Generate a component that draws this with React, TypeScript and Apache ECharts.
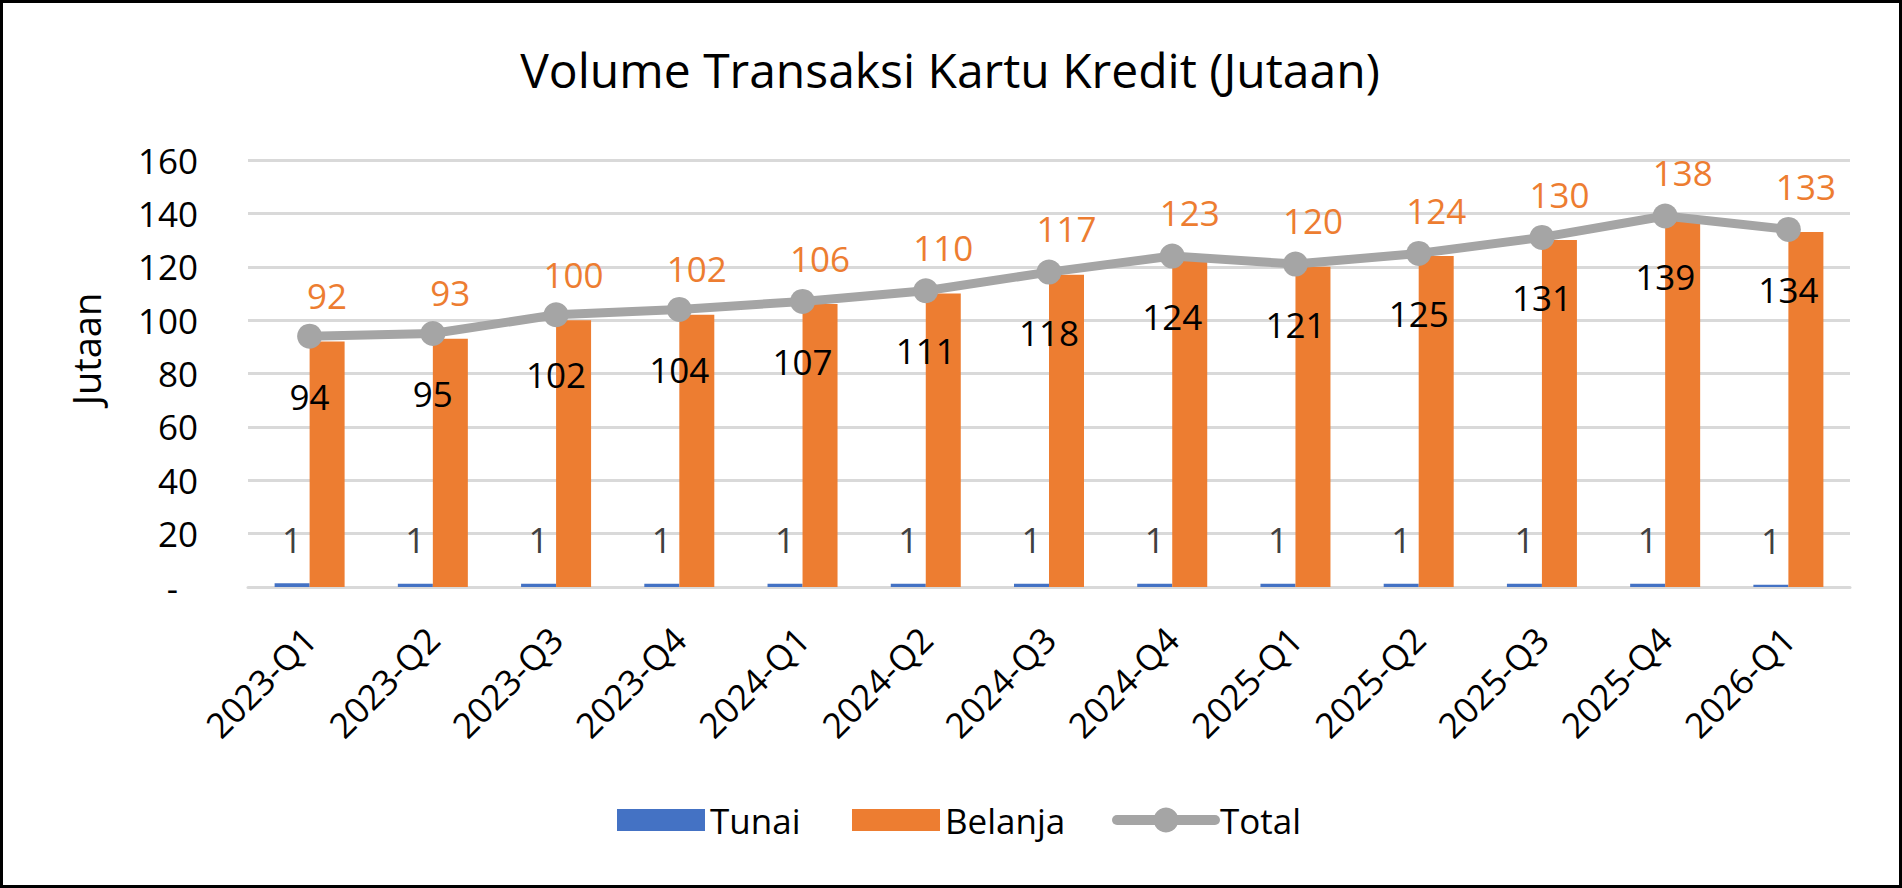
import React, { useEffect, useRef } from "react";
import * as echarts from "echarts";

const categories = [
  "2023-Q1", "2023-Q2", "2023-Q3", "2023-Q4",
  "2024-Q1", "2024-Q2", "2024-Q3", "2024-Q4",
  "2025-Q1", "2025-Q2", "2025-Q3", "2025-Q4",
  "2026-Q1",
];
const tunai = [1.45, 1.2, 1.2, 1.2, 1.2, 1.2, 1.2, 1.2, 1.2, 1.2, 1.2, 1.2, 0.8];
const belanja = [92, 93, 100, 102, 106, 110, 117, 123, 120, 124, 130, 138, 133];
const total = [94, 95, 102, 104, 107, 111, 118, 124, 121, 125, 131, 139, 134];
const yTicks = { min: 0, max: 160, interval: 20 };

const FONT = "'Open Sans', sans-serif";

export default function App() {
  const ref = useRef<HTMLDivElement>(null);
  useEffect(() => {
    if (!ref.current) return;
    const chart = echarts.init(ref.current, undefined, { renderer: "svg" });
    const legendBase = {
      top: 800,
      padding: 0,
      itemGap: 0,
      selectedMode: false,
      textStyle: { fontFamily: FONT, fontSize: 35, lineHeight: 40, color: "#000" },
    };
    chart.setOption({
      animation: false,
      backgroundColor: "#fff",
      textStyle: { fontFamily: FONT },
      graphic: [
        {
          type: "rect",
          shape: { x: 1.5, y: 1.5, width: 1899, height: 885 },
          style: { fill: "none", stroke: "#000", lineWidth: 3 },
          z: 100,
        },
        {
          type: "text",
          x: 950,
          y: 69,
          style: {
            text: "Volume Transaksi Kartu Kredit (Jutaan)",
            fontFamily: FONT,
            fontSize: 48,
            fill: "#000",
            align: "center",
            verticalAlign: "middle",
          },
        },
        {
          type: "text",
          x: 86,
          y: 349,
          rotation: Math.PI / 2,
          style: {
            text: "Jutaan",
            fontFamily: FONT,
            fontSize: 38,
            fill: "#000",
            align: "center",
            verticalAlign: "middle",
          },
        },
      ],
      legend: [
        { ...legendBase, left: 617, data: [{ name: "Tunai", icon: "rect" }], itemWidth: 88, itemHeight: 22 },
        { ...legendBase, left: 852, data: [{ name: "Belanja", icon: "rect" }], itemWidth: 88, itemHeight: 22 },
        {
          ...legendBase,
          left: 1112,
          data: ["Total"],
          itemWidth: 98,
          itemHeight: 31,
          lineStyle: { width: 10, cap: "round" },
        },
      ],
      grid: { left: 248, right: 52, top: 160, bottom: 301, containLabel: false },
      xAxis: {
        type: "category",
        data: categories,
        axisLine: { show: true, lineStyle: { color: "#D9D9D9", width: 3 } },
        axisTick: { show: false },
        axisLabel: {
          rotate: 45,
          margin: 46,
          interval: 0,
          fontFamily: FONT,
          fontSize: 35,
          color: "#000",
        },
      },
      yAxis: {
        type: "value",
        min: yTicks.min,
        max: yTicks.max,
        interval: yTicks.interval,
        axisLine: { show: false },
        axisTick: { show: false },
        splitLine: { lineStyle: { color: "#D9D9D9", width: 3 } },
        axisLabel: {
          margin: 50,
          fontFamily: FONT,
          fontSize: 35,
          color: "#000",
          formatter: (v: number) => (v === 0 ? "{d|-}" : String(v)),
          rich: { d: { fontFamily: FONT, fontSize: 35, color: "#000", padding: [0, 20, 0, 0] } },
        },
      },
      series: [
        {
          name: "Tunai",
          type: "bar",
          data: tunai,
          barWidth: 35,
          barGap: "0%",
          itemStyle: { color: "#4472C4" },
          label: {
            show: true,
            position: ["50%", -44],
            align: "center",
            verticalAlign: "middle",
            fontFamily: FONT,
            fontSize: 35,
            color: "#404040",
            formatter: (p: any) => String(Math.round(p.value)),
          },
        },
        {
          name: "Belanja",
          type: "bar",
          data: belanja,
          barWidth: 35,
          barGap: "0%",
          itemStyle: { color: "#ED7D31" },
          label: {
            show: true,
            position: ["50%", -46],
            align: "center",
            verticalAlign: "middle",
            fontFamily: FONT,
            fontSize: 35,
            color: "#ED7D31",
            formatter: (p: any) => String(Math.round(p.value)),
          },
        },
        {
          name: "Total",
          type: "line",
          data: total,
          symbol: "circle",
          symbolSize: 25,
          z: 5,
          lineStyle: { color: "#A5A5A5", width: 9 },
          itemStyle: { color: "#A5A5A5" },
          label: {
            show: true,
            position: "inside",
            offset: [0, 60],
            fontFamily: FONT,
            fontSize: 35,
            color: "#000",
            formatter: (p: any) => String(Math.round(p.value)),
          },
        },
      ],
    });
    return () => chart.dispose();
  }, []);
  return (
    <div
      ref={ref}
      style={{ position: "fixed", left: 0, top: 0, width: 1902, height: 888, background: "#fff" }}
    />
  );
}
